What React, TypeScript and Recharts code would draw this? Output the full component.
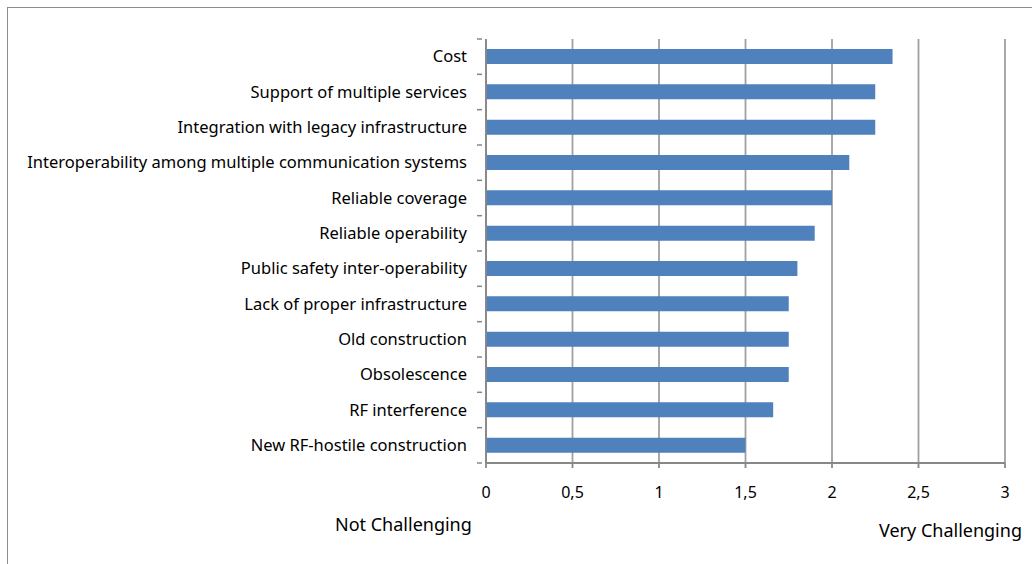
import React from 'react';
import { BarChart, Bar, XAxis, YAxis, CartesianGrid } from 'recharts';

const categories = [
  'Cost',
  'Support of multiple services',
  'Integration with legacy infrastructure',
  'Interoperability among multiple communication systems',
  'Reliable coverage',
  'Reliable operability',
  'Public safety inter-operability',
  'Lack of proper infrastructure',
  'Old construction',
  'Obsolescence',
  'RF interference',
  'New RF-hostile construction',
];

const scores = [2.35, 2.25, 2.25, 2.1, 2.0, 1.9, 1.8, 1.75, 1.75, 1.75, 1.66, 1.5];

const xTicks = [0, 0.5, 1, 1.5, 2, 2.5, 3];

const data = categories.map((name, i) => ({ name, score: scores[i] }));

const FONT = '"Noto Sans", sans-serif';
const PLOT_TOP = 39;
const PLOT_BOTTOM = 463;
const bandHalf = (PLOT_BOTTOM - PLOT_TOP) / categories.length / 2;

// category label plus a small tick mark on the band boundary
const CategoryTick = (props: any) => {
  const { x, y, payload, index } = props;
  const axisX = x + 4;
  return (
    <g>
      <line x1={axisX - 5} x2={axisX} y1={y - bandHalf} y2={y - bandHalf} stroke="#878787" strokeWidth={1.5} />
      {index === categories.length - 1 && (
        <line x1={axisX - 5} x2={axisX} y1={y + bandHalf} y2={y + bandHalf} stroke="#878787" strokeWidth={1.5} />
      )}
      <text x={axisX - 15} y={y} dy="0.35em" textAnchor="end" fontSize={16.5} fill="#000" fontFamily={FONT}>
        {payload.value}
      </text>
    </g>
  );
};

const App = () => {
  return (
    <div style={{ position: 'absolute', left: 0, top: 0, width: 1032, height: 564, background: '#fff', overflow: 'hidden' }}>
      <div
        style={{
          position: 'absolute',
          left: 7,
          top: 7,
          width: 1040,
          height: 570,
          borderLeft: '1.5px solid #8c8c8c',
          borderTop: '1.5px solid #8c8c8c',
        }}
      />
      <BarChart
        width={1032}
        height={564}
        data={data}
        layout="vertical"
        margin={{ top: PLOT_TOP, right: 27, bottom: 564 - PLOT_BOTTOM - 40, left: 0 }}
        barCategoryGap={0}
      >
        <CartesianGrid horizontal={false} stroke="#a0a0a0" strokeWidth={1.8} />
        <XAxis
          type="number"
          domain={[0, 3]}
          ticks={xTicks}
          interval={0}
          height={40}
          tickSize={5}
          tickMargin={19}
          stroke="#878787"
          strokeWidth={1.8}
          tick={{ fill: '#000', fontSize: 16, fontFamily: FONT }}
          tickFormatter={(v: number) => String(v).replace('.', ',')}
        />
        <YAxis
          type="category"
          dataKey="name"
          width={486}
          interval={0}
          tickLine={false}
          stroke="#878787"
          strokeWidth={1.8}
          tick={<CategoryTick />}
        />
        <Bar dataKey="score" fill="#4f81bd" barSize={15} isAnimationActive={false} />
      </BarChart>
      <div style={{ position: 'absolute', left: 335, top: 512, fontSize: 18, fontFamily: FONT, color: '#000' }}>
        Not Challenging
      </div>
      <div style={{ position: 'absolute', left: 879, top: 518, fontSize: 18, fontFamily: FONT, color: '#000' }}>
        Very Challenging
      </div>
    </div>
  );
};

export default App;
